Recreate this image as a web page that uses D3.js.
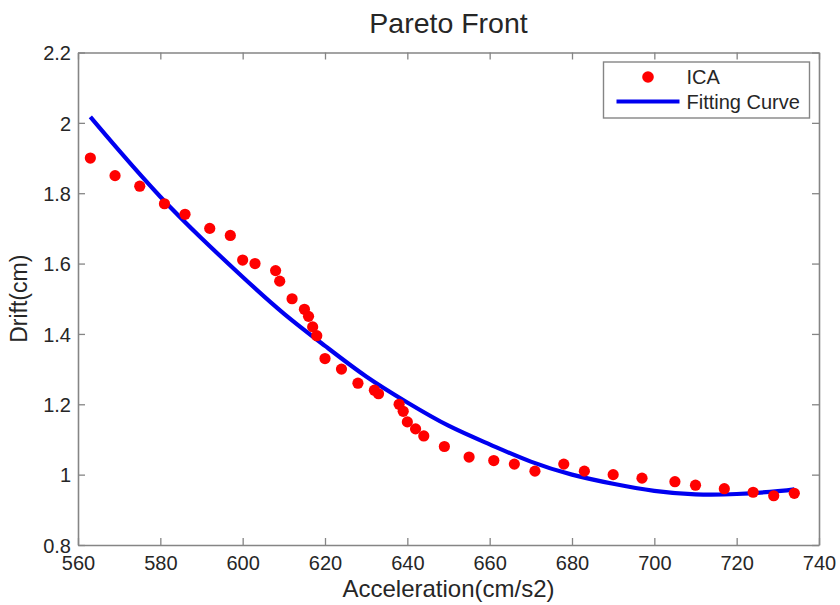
<!DOCTYPE html>
<html>
<head>
<meta charset="utf-8">
<script src="https://cdn.jsdelivr.net/npm/d3@7"></script>
<style>
  html, body { margin: 0; padding: 0; background: #fff; }
  svg { display: block; font-family: "Liberation Sans", Arial, Helvetica, sans-serif; }
</style>
</head>
<body>
<svg id="chart" width="840" height="605"></svg>
<script>
// ICA Pareto solutions: acceleration (cm/s2) vs drift (cm)
const icaAccel = [563, 569, 575, 581, 586, 592, 597, 600, 603, 608, 609, 612, 615, 616, 617, 618,
  620, 624, 628, 632, 633, 638, 639, 640, 642, 644, 649, 655, 661, 666, 671, 678, 683, 690,
  697, 705, 710, 717, 724, 729, 734];
const icaDrift = [1.90, 1.85, 1.82, 1.77, 1.74, 1.70, 1.68, 1.61, 1.60, 1.58, 1.55, 1.50, 1.47, 1.45, 1.42, 1.395,
  1.33, 1.30, 1.26, 1.24, 1.23, 1.20, 1.18, 1.15, 1.13, 1.11, 1.08, 1.05, 1.04, 1.03, 1.01, 1.03, 1.01, 1.00,
  0.99, 0.98, 0.97, 0.96, 0.95, 0.94, 0.947];

// Fitted curve through the front
const fitAccel = [563, 570, 580, 590, 600, 610, 620, 630, 640, 650, 660, 670, 680, 690, 700, 710, 720, 730, 734];
const fitDrift = [2.017, 1.921, 1.790, 1.672, 1.562, 1.458, 1.366, 1.279, 1.205, 1.139, 1.086, 1.037, 1.000,
  0.974, 0.954, 0.944, 0.945, 0.953, 0.958];

const xTicks = [560, 580, 600, 620, 640, 660, 680, 700, 720, 740];
const yTicks = [0.8, 1, 1.2, 1.4, 1.6, 1.8, 2, 2.2];

const titleText = "Pareto Front";
const xLabel = "Acceleration(cm/s2)";
const yLabel = "Drift(cm)";
const seriesNames = ["ICA", "Fitting Curve"];

const margin = { left: 78, right: 21, top: 52.5, bottom: 60 };
const W = 840, H = 605;
const svg = d3.select("#chart");

const x = d3.scaleLinear().domain([560, 740]).range([margin.left, W - margin.right]);
const y = d3.scaleLinear().domain([0.8, 2.2]).range([H - margin.bottom, margin.top]);

const axisColor = "#858585";
const textColor = "#262626";
const tickLen = 7;

// box axes with inward ticks on all four sides
const gx = svg.append("g").attr("transform", `translate(0,${y(0.8)})`)
  .call(d3.axisBottom(x).tickValues(xTicks).tickSizeInner(-tickLen).tickSizeOuter(0).tickPadding(12).tickFormat(d3.format("d")));
const gxTop = svg.append("g").attr("transform", `translate(0,${y(2.2)})`)
  .call(d3.axisTop(x).tickValues(xTicks).tickSizeInner(-tickLen).tickSizeOuter(0).tickFormat(""));
const gy = svg.append("g").attr("transform", `translate(${x(560)},0)`)
  .call(d3.axisLeft(y).tickValues(yTicks).tickSizeInner(-tickLen).tickSizeOuter(0).tickPadding(7).tickFormat(d => d3.format("")(d)));
const gyRight = svg.append("g").attr("transform", `translate(${x(740)},0)`)
  .call(d3.axisRight(y).tickValues(yTicks).tickSizeInner(-tickLen).tickSizeOuter(0).tickFormat(""));

[gx, gxTop, gy, gyRight].forEach(g => {
  g.select(".domain").attr("stroke", axisColor).attr("stroke-width", 1.6);
  g.selectAll(".tick line").attr("stroke", axisColor).attr("stroke-width", 1.3);
  g.selectAll(".tick text").attr("fill", textColor).style("font-size", "20px")
    .style("font-family", "'Liberation Sans', Arial, sans-serif");
});
gx.selectAll(".tick text").attr("dy", "0.71em").attr("y", 11);
gy.selectAll(".tick text").attr("dy", "0.36em");

// fitted curve
const line = d3.line().x((d, i) => x(fitAccel[i])).y(d => y(d)).curve(d3.curveNatural);
svg.append("path").datum(fitDrift)
  .attr("d", line).attr("fill", "none").attr("stroke", "#0000f0").attr("stroke-width", 4.2)
  .attr("stroke-linecap", "butt");

// ICA points
svg.append("g").selectAll("circle").data(icaDrift).join("circle")
  .attr("cx", (d, i) => x(icaAccel[i])).attr("cy", d => y(d)).attr("r", 5.6).attr("fill", "#ff0000");

// title & axis labels
svg.append("text").attr("x", (x(560) + x(740)) / 2).attr("y", 33).attr("text-anchor", "middle")
  .attr("fill", textColor).style("font-size", "28.5px").text(titleText);
svg.append("text").attr("x", (x(560) + x(740)) / 2).attr("y", 597).attr("text-anchor", "middle")
  .attr("fill", textColor).style("font-size", "24px").text(xLabel);
svg.append("text").attr("transform", `translate(27,${(y(0.8) + y(2.2)) / 2}) rotate(-90)`)
  .attr("text-anchor", "middle").attr("fill", textColor).style("font-size", "23px").text(yLabel);

// legend
const lg = svg.append("g");
lg.append("rect").attr("x", 603.5).attr("y", 62).attr("width", 206).attr("height", 56)
  .attr("fill", "#fff").attr("stroke", axisColor).attr("stroke-width", 1.4);
lg.append("circle").attr("cx", 648).attr("cy", 77).attr("r", 5.8).attr("fill", "#ff0000");
lg.append("line").attr("x1", 616.5).attr("x2", 679.5).attr("y1", 101.5).attr("y2", 101.5)
  .attr("stroke", "#0000f0").attr("stroke-width", 4.2);
lg.selectAll("text.lbl").data(seriesNames).join("text").attr("class", "lbl")
  .attr("x", 686.5).attr("y", (d, i) => 84 + i * 24.5).attr("fill", textColor)
  .style("font-size", "20px").text(d => d);
</script>
</body>
</html>
